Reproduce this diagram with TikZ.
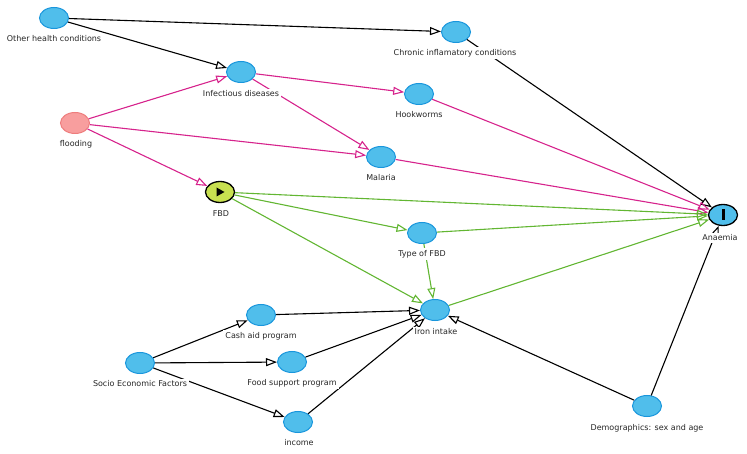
\documentclass[tikz,border=0pt]{standalone}
\usepackage{fontspec}
\setmainfont{DejaVu Sans}
\usetikzlibrary{arrows.meta,shapes.geometric}
\definecolor{nblue}{RGB}{80,190,235}
\definecolor{nbord}{RGB}{25,150,220}
\definecolor{npink}{RGB}{248,158,158}
\definecolor{npbord}{RGB}{238,125,125}
\definecolor{nyel}{RGB}{200,224,80}
\definecolor{epink}{RGB}{214,35,140}
\definecolor{egreen}{RGB}{98,182,50}
\tikzset{
  var/.style={ellipse,minimum width=29pt,minimum height=21pt,inner sep=0pt,fill=nblue,draw=nbord,line width=1pt},
  lat/.style={var,fill=npink,draw=npbord},
  expo/.style={var,fill=nyel,draw=black,line width=1.3pt},
  outc/.style={var,draw=black,line width=1.3pt},
  lab/.style={fill=white,inner sep=2pt,text=black!85,font=\fontsize{8}{9}\selectfont},
  edge/.style={line width=1.1pt,-{Triangle[open,length=11pt,width=8pt]}},
  eblack/.style={edge,draw=black},
  epk/.style={edge,draw=epink},
  egr/.style={edge,draw=egreen},
}
\begin{document}
\begin{tikzpicture}[x=1pt,y=-1pt]
\useasboundingbox (0,0) rectangle (747,454);
\node[var] (oth) at (54,18) {};
\node[var] (chr) at (456,32) {};
\node[var] (inf) at (241,72) {};
\node[var] (hook) at (419,94) {};
\node[lat] (flo) at (75,123) {};
\node[var] (mal) at (381,157) {};
\node[expo] (fbd) at (220,192) {};
\node[outc] (ana) at (723,215) {};
\node[var] (typ) at (422,233) {};
\node[var] (iron) at (435,310) {};
\node[var] (cash) at (261,315) {};
\node[var] (soc) at (140,363) {};
\node[var] (food) at (292,362) {};
\node[var] (inc) at (298,422) {};
\node[var] (dem) at (647,406) {};
% symbols
\fill[black] (216.5,187.5) -- (224.5,192) -- (216.5,196.5) -- cycle;
\fill[black] (722,209.5) rectangle (724.5,220.5);
% black edges
\draw[eblack] (oth) -- (chr);
\draw[eblack] (oth) -- (inf);
\draw[eblack] (chr) -- (ana);
\draw[eblack] (cash) -- (iron);
\draw[eblack] (food) -- (iron);
\draw[eblack] (inc) -- (iron);
\draw[eblack] (soc) -- (cash);
\draw[eblack] (soc) -- (food);
\draw[eblack] (soc) -- (inc);
\draw[eblack] (dem) -- (iron);
\draw[eblack] (dem) -- (ana);
% pink edges
\draw[epk] (inf) -- (hook);
\draw[epk] (inf) -- (mal);
\draw[epk] (hook) -- (ana);
\draw[epk] (flo) -- (inf);
\draw[epk] (flo) -- (mal);
\draw[epk] (flo) -- (fbd);
\draw[epk] (mal) -- (ana);
% green edges
\draw[egr] (fbd) -- (ana);
\draw[egr] (fbd) -- (typ);
\draw[egr] (fbd) -- (iron);
\draw[egr] (typ) -- (ana);
\draw[egr] (typ) -- (iron);
\draw[egr] (iron) -- (ana);
% labels
\node[lab] (loth) at (54,39) {Other health conditions};
\node[lab] (lchr) at (455,53) {Chronic inflamatory conditions};
\node[lab] (linf) at (241,94) {Infectious diseases};
\node[lab] (lhook) at (419,115) {Hookworms};
\node[lab] (lflo) at (76,144) {flooding};
\node[lab] (lmal) at (381,178) {Malaria};
\node[lab] (lfbd) at (221,214) {FBD};
\node[lab] (lana) at (720,238) {Anaemia};
\node[lab] (ltyp) at (422,254) {Type of FBD};
\node[lab] (liron) at (436,332) {Iron intake};
\node[lab] (lcash) at (261,336) {Cash aid program};
\node[lab] (lsoc) at (140,384) {Socio Economic Factors};
\node[lab] (lfood) at (292,383) {Food support program};
\node[lab] (linc) at (299,443) {income};
\node[lab] (ldem) at (647,428) {Demographics: sex and age};
\end{tikzpicture}
\end{document}
